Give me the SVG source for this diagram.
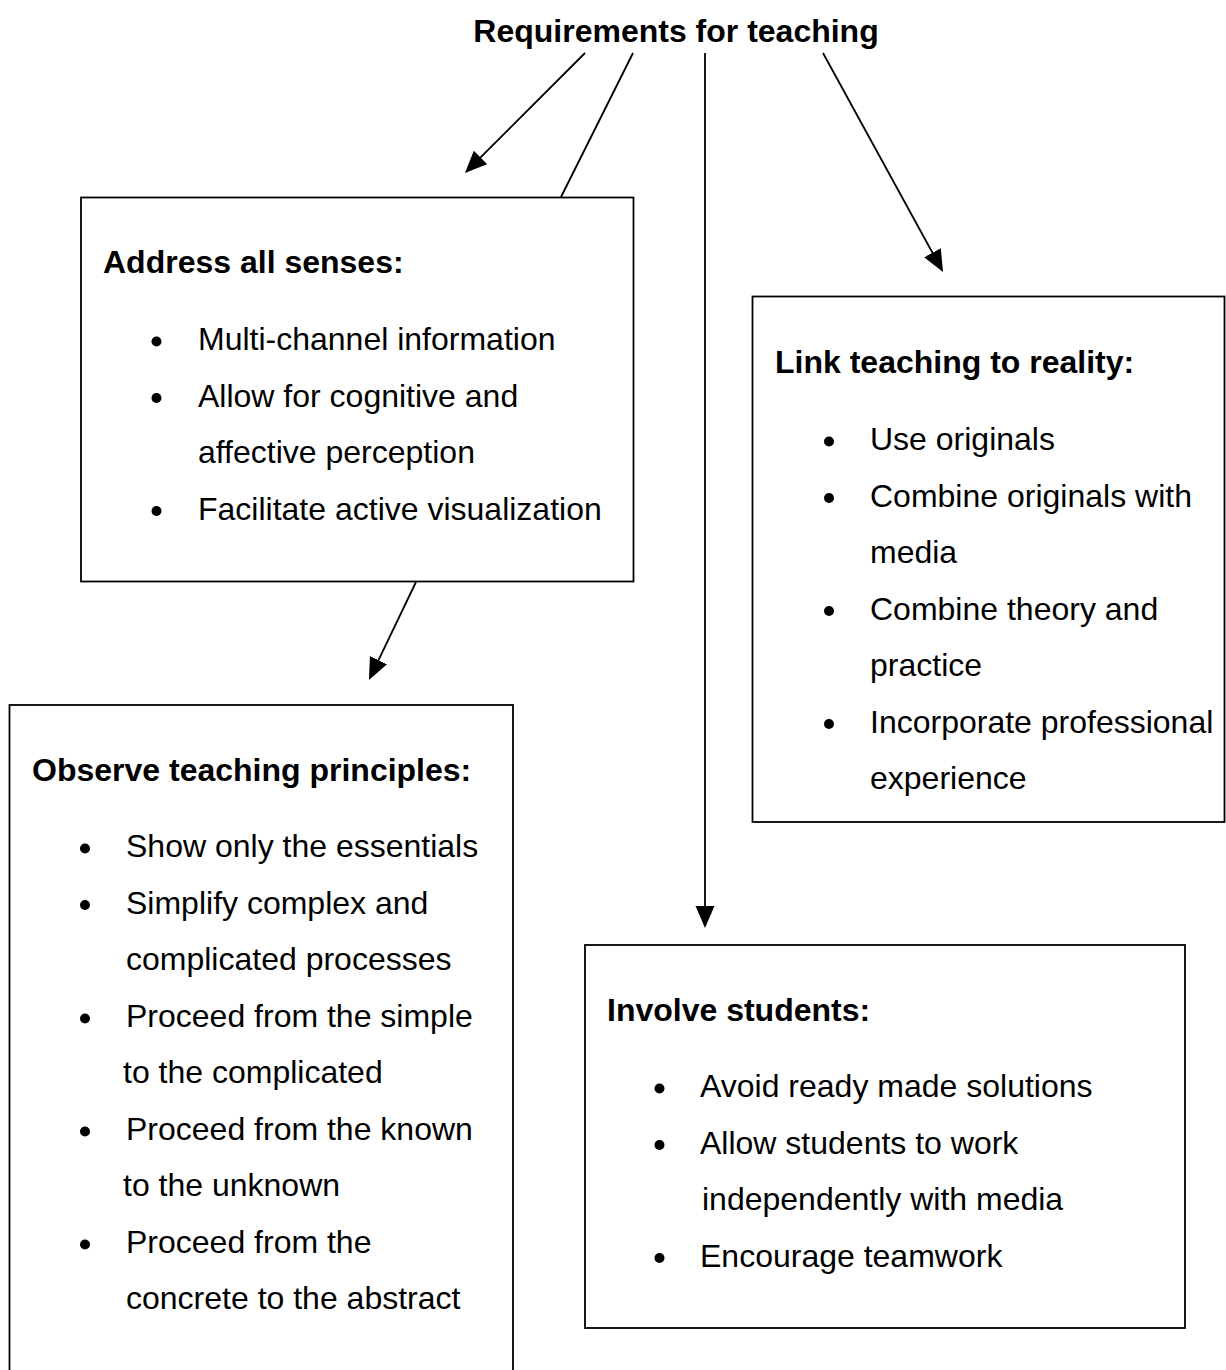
<svg xmlns="http://www.w3.org/2000/svg" width="1226" height="1370" viewBox="0 0 1226 1370">
  <style>
    .box { fill: #ffffff; stroke: #000000; stroke-width: 1.8; }
    .link { fill: none; stroke: #000000; stroke-width: 1.8; }
    .title { font-family: "Liberation Sans", Arial, sans-serif; font-size: 32px; font-weight: bold; fill: #000000; }
    .head { font-family: "Liberation Sans", Arial, sans-serif; font-size: 32px; font-weight: bold; fill: #000000; }
    .item { font-family: "Liberation Sans", Arial, sans-serif; font-size: 32px; fill: #000000; }
    .dot { fill: #000000; }
  </style>
  <defs>
    <marker id="arrow" markerUnits="userSpaceOnUse" markerWidth="22" markerHeight="20" refX="18" refY="9.5" orient="auto">
      <path d="M0,0 L22,9.5 L0,19 z" fill="#000000"/>
    </marker>
  </defs>

  <rect width="1226" height="1370" fill="#ffffff"/>

  <!-- title -->
  <g id="title">
    <text class="title" x="676" y="42" text-anchor="middle">Requirements for teaching</text>
  </g>

  <!-- connectors -->
  <g id="connectors">
    <line class="link" x1="585" y1="53" x2="467.8" y2="170.2" marker-end="url(#arrow)"/>
    <line class="link" x1="633" y1="53" x2="561" y2="197"/>
    <line class="link" x1="705" y1="53" x2="705" y2="924" marker-end="url(#arrow)"/>
    <line class="link" x1="823" y1="53" x2="941.1" y2="268.5" marker-end="url(#arrow)"/>
    <line class="link" x1="416" y1="582" x2="370.7" y2="676.4" marker-end="url(#arrow)"/>
  </g>

  <!-- Address all senses -->
  <g id="node-senses">
    <rect class="box" x="81" y="197.5" width="552.5" height="384"/>
    <text class="head" x="103" y="273">Address all senses:</text>
    <circle class="dot" cx="156.5" cy="341.5" r="5"/>
    <text class="item" x="198" y="350">Multi-channel information</text>
    <circle class="dot" cx="156.5" cy="398" r="5"/>
    <text class="item" x="198" y="406.5">Allow for cognitive and</text>
    <text class="item" x="198" y="463">affective perception</text>
    <circle class="dot" cx="156.5" cy="511" r="5"/>
    <text class="item" x="198" y="519.5">Facilitate active visualization</text>
  </g>

  <!-- Link teaching to reality -->
  <g id="node-reality">
    <rect class="box" x="752.5" y="296.5" width="472" height="525.5"/>
    <text class="head" x="775" y="373">Link teaching to reality:</text>
    <circle class="dot" cx="829" cy="441.5" r="5"/>
    <text class="item" x="870" y="450">Use originals</text>
    <circle class="dot" cx="829" cy="498" r="5"/>
    <text class="item" x="870" y="506.5">Combine originals with</text>
    <text class="item" x="870" y="563">media</text>
    <circle class="dot" cx="829" cy="611" r="5"/>
    <text class="item" x="870" y="619.5">Combine theory and</text>
    <text class="item" x="870" y="676">practice</text>
    <circle class="dot" cx="829" cy="724" r="5"/>
    <text class="item" x="870" y="732.5">Incorporate professional</text>
    <text class="item" x="870" y="789">experience</text>
  </g>

  <!-- Observe teaching principles -->
  <g id="node-principles">
    <rect class="box" x="9.5" y="705" width="503.5" height="700"/>
    <text class="head" x="32" y="781">Observe teaching principles:</text>
    <circle class="dot" cx="85" cy="848.5" r="5"/>
    <text class="item" x="126" y="857">Show only the essentials</text>
    <circle class="dot" cx="85" cy="905" r="5"/>
    <text class="item" x="126" y="913.5">Simplify complex and</text>
    <text class="item" x="126" y="970">complicated processes</text>
    <circle class="dot" cx="85" cy="1018.5" r="5"/>
    <text class="item" x="126" y="1027">Proceed from the simple</text>
    <text class="item" x="123" y="1083">to the complicated</text>
    <circle class="dot" cx="85" cy="1131.5" r="5"/>
    <text class="item" x="126" y="1140">Proceed from the known</text>
    <text class="item" x="123" y="1196">to the unknown</text>
    <circle class="dot" cx="85" cy="1244.5" r="5"/>
    <text class="item" x="126" y="1253">Proceed from the</text>
    <text class="item" x="126" y="1309">concrete to the abstract</text>
  </g>

  <!-- Involve students -->
  <g id="node-students">
    <rect class="box" x="585" y="945" width="600" height="383"/>
    <text class="head" x="607" y="1021">Involve students:</text>
    <circle class="dot" cx="659.5" cy="1088.5" r="5"/>
    <text class="item" x="700" y="1097">Avoid ready made solutions</text>
    <circle class="dot" cx="659.5" cy="1145" r="5"/>
    <text class="item" x="700" y="1153.5">Allow students to work</text>
    <text class="item" x="702" y="1210">independently with media</text>
    <circle class="dot" cx="659.5" cy="1258" r="5"/>
    <text class="item" x="700" y="1266.5">Encourage teamwork</text>
  </g>
</svg>
